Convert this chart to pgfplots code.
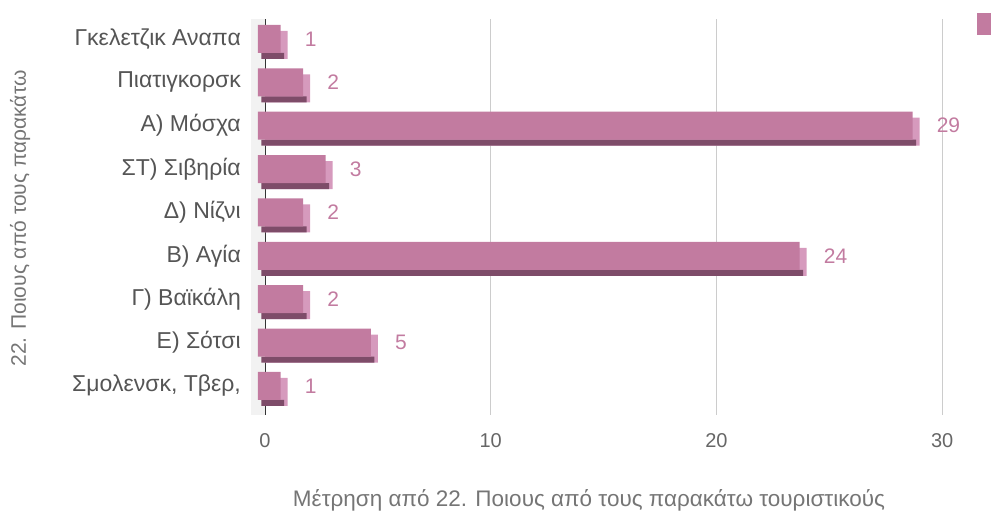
\documentclass[border=0pt]{standalone}
\usepackage{fontspec}
\setmainfont{Liberation Sans}
\usepackage{pgfplots}
\usepackage{pgfplotstable}
\pgfplotsset{compat=1.18}

\definecolor{barfront}{HTML}{C27BA0}
\definecolor{barside}{HTML}{D69ABD}
\definecolor{barbottom}{HTML}{7E4C69}
\definecolor{ticktext}{HTML}{666666}
\definecolor{cattext}{HTML}{555555}
\definecolor{titletext}{HTML}{757575}
\definecolor{gridgray}{HTML}{CCCCCC}
\definecolor{wallgray}{HTML}{F2F2F2}

\pgfplotstableread{
idx value
0 1
1 2
2 29
3 3
4 2
5 24
6 2
7 5
8 1
}\visits

\begin{document}
\begin{tikzpicture}[x=1pt,y=1pt]
\path[use as bounding box] (0,0) rectangle (991,-513);
\begin{axis}[
    at={(265pt,-415pt)}, anchor=south west,
    scale only axis,
    width=699.7pt, height=396pt,
    xmin=0, xmax=31,
    ymin=-0.46, ymax=8.67,
    y dir=reverse,
    clip=false,
    axis line style={draw=none},
    major tick length=0pt,
    xtick={10,20,30},
    extra x ticks={0},
    extra x tick style={grid style={draw=black!80, line width=1.8pt}},
    xmajorgrids=true,
    grid style={draw=gridgray, line width=1.2pt},
    ytick={0,...,8},
    yticklabels={Γκελετζικ Αναπα,Πιατιγκορσκ,Α) Μόσχα,ΣΤ) Σιβηρία,Δ) Νίζνι,Β) Αγία,Γ) Βαϊκάλη,Ε) Σότσι,{Σμολενσκ, Τβερ,}},
    /pgf/number format/assume math mode=true,
    xticklabel style={font=\fontsize{20}{22}\selectfont, text=ticktext, inner sep=0pt, anchor=north, yshift=-18pt},
    yticklabel style={font=\fontsize{23}{25}\selectfont, text=cattext, inner sep=0pt, anchor=east, xshift=-24pt},
    xlabel={Μέτρηση από 22. Ποιους από τους παρακάτω τουριστικούς},
    xlabel style={font=\fontsize{22.5}{24}\selectfont, text=titletext, at={(0.463,-0.232)}, anchor=base},
    ylabel={22. Ποιους από τους παρακάτω},
    ylabel style={font=\fontsize{21}{23}\selectfont, text=titletext, at={(-0.350,0.496)}, anchor=center, rotate=0},
    xbar, bar width=28pt,
    legend style={draw=none, fill=none, inner sep=0pt, outer sep=0pt,
        at={(1.0176,1.016)}, anchor=north west, nodes={inner sep=0pt}},
    legend image code/.code={\fill[barfront] (0pt,-11pt) rectangle (22pt,11pt);},
]
% 3D wall at the left
\fill[wallgray] ([xshift=-14pt]axis cs:0,-0.46) rectangle (axis cs:0,8.67);
% side faces (back plane)
\addplot[draw=none, fill=barside, yshift=-6pt, forget plot] table[x=value, y=idx] {\visits};
% bottom faces
\addplot[draw=none, fill=barbottom, yshift=-17pt, xshift=-3.5pt, bar width=6pt, forget plot] table[x=value, y=idx] {\visits};
% front faces
\addplot[draw=none, fill=barfront, xshift=-7pt,
    nodes near coords,
    nodes near coords style={anchor=west, inner sep=0pt, xshift=24pt,
        font=\fontsize{21}{23}\selectfont, text=barfront}]
    table[x=value, y=idx] {\visits};
\addlegendentry{}
\end{axis}
\end{tikzpicture}
\end{document}
